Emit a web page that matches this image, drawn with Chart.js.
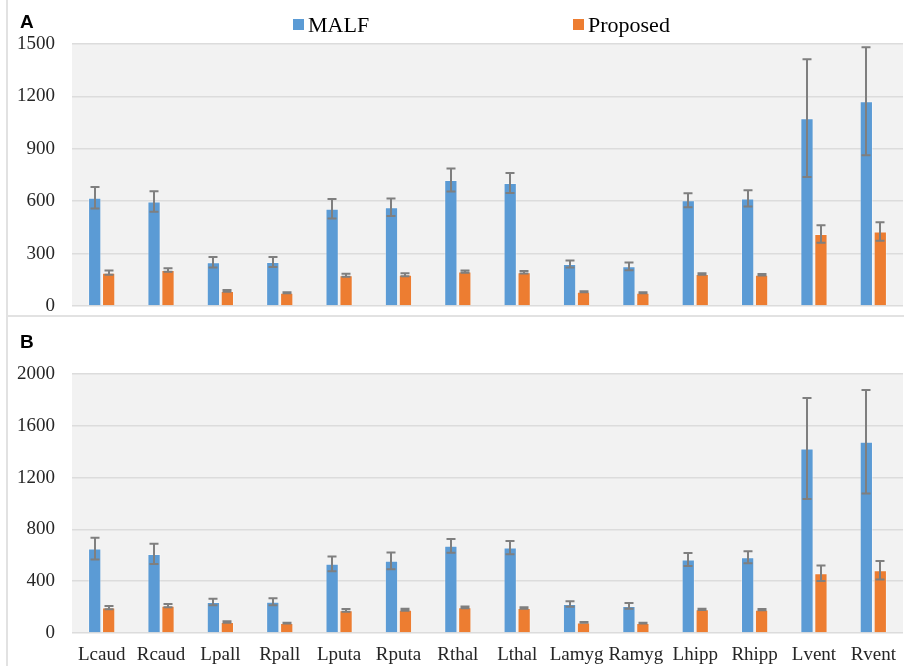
<!DOCTYPE html>
<html>
<head>
<meta charset="utf-8">
<script src="https://cdn.jsdelivr.net/npm/chart.js@4.4.1/dist/chart.umd.min.js"></script>
<style>
  html, body { margin: 0; padding: 0; background: #ffffff; }
  #wrap { position: relative; width: 904px; height: 666px; overflow: hidden; background: #fff; }
  #boxA { position: absolute; left: 0; top: 0; width: 904px; height: 316px; }
  #boxB { position: absolute; left: 0; top: 316px; width: 904px; height: 350px; }
  .panel { position: absolute; font-family: "Liberation Sans", Arial, sans-serif; font-weight: bold; font-size: 19px; line-height: 19px; color: #000; }
  .vline { position: absolute; left: 6px; top: 0; width: 2px; height: 666px; background: #e2e2e2; }
  .hline { position: absolute; left: 7px; top: 315px; width: 897px; height: 2px; background: #e2e2e2; }
</style>
</head>
<body>
<div id="wrap">
  <div id="boxA"><canvas id="chartA" width="904" height="316"></canvas></div>
  <div id="boxB"><canvas id="chartB" width="904" height="350"></canvas></div>
  <div class="vline"></div>
  <div class="hline"></div>
  <div class="panel" style="left:20px; top:12px;">A</div>
  <div class="panel" style="left:20px; top:332px;">B</div>
</div>
<script>
// ---- data ----
const categories = ["Lcaud","Rcaud","Lpall","Rpall","Lputa","Rputa","Rthal","Lthal","Lamyg","Ramyg","Lhipp","Rhipp","Lvent","Rvent"];
const seriesNames = ["MALF", "Proposed"];

const malfA      = [620, 598, 250, 252, 557, 565, 721, 704, 240, 227, 605, 616, 1075, 1172];
const malfErrA   = [ 62,  59,  30,  29,  56,  50,  66,  57,  20,  22,  40,  46,  337,  309];
const propA      = [191, 206,  86,  76, 176, 179, 197, 193,  82,  76, 183, 179,  412,  426];
const propErrA   = [ 12,  10,   5,   3,   8,   8,   6,   7,   3,   3,   4,   4,   50,   53];

const malfB      = [652, 611, 240, 242, 534, 557, 673, 660, 224, 209, 567, 585, 1425, 1477];
const malfErrB   = [ 84,  79,  25,  27,  57,  64,  53,  51,  21,  22,  50,  47,  390,  400];
const propB      = [196, 211,  85,  77, 175, 180, 198, 193,  82,  77, 183, 180,  461,  485];
const propErrB   = [ 13,  13,   5,   3,  10,   8,   6,   6,   3,   3,   5,   5,   60,   71];

const ticksA = [0, 300, 600, 900, 1200, 1500];
const ticksB = [0, 400, 800, 1200, 1600, 2000];

// ---- styles ----
const BLUE = "#5b9bd5";
const ORANGE = "#ed7d31";
const ERR = "#7f7f7f";
const GRID = "#dcdcdc";
const PLOTBG = "#f2f2f2";
const SERIF = "'Liberation Serif', 'Times New Roman', serif";

const plotBg = {
  id: "plotBg",
  beforeDraw(chart) {
    const a = chart.chartArea, ctx = chart.ctx;
    ctx.save();
    ctx.fillStyle = PLOTBG;
    ctx.fillRect(a.left, a.top, a.right - a.left, a.bottom - a.top);
    ctx.restore();
  }
};

const errorBars = {
  id: "errorBars",
  afterDatasetsDraw(chart) {
    const ctx = chart.ctx;
    const y = chart.scales.y;
    ctx.save();
    ctx.strokeStyle = ERR;
    ctx.lineWidth = 2;
    chart.data.datasets.forEach((ds, i) => {
      const meta = chart.getDatasetMeta(i);
      meta.data.forEach((el, j) => {
        const v = ds.data[j], e = ds.errors[j];
        const x = Math.round(el.x);
        const t = y.getPixelForValue(v + e);
        const b = y.getPixelForValue(v - e);
        const cap = 4.5;
        ctx.beginPath();
        ctx.moveTo(x, t); ctx.lineTo(x, b);
        ctx.moveTo(x - cap, t); ctx.lineTo(x + cap, t);
        ctx.moveTo(x - cap, b); ctx.lineTo(x + cap, b);
        ctx.stroke();
      });
    });
    ctx.restore();
  }
};

const topLegend = {
  id: "topLegend",
  afterDraw(chart) {
    const ctx = chart.ctx;
    const items = [
      { text: seriesNames[0], color: BLUE, x: 293 },
      { text: seriesNames[1], color: ORANGE, x: 573 }
    ];
    ctx.save();
    ctx.font = "22px " + SERIF;
    ctx.textBaseline = "middle";
    ctx.textAlign = "left";
    items.forEach(it => {
      ctx.fillStyle = it.color;
      ctx.fillRect(it.x, 19, 11, 11);
      ctx.fillStyle = "#000";
      ctx.fillText(it.text, it.x + 15, 26);
    });
    ctx.restore();
  }
};

function makeChart(id, malf, malfErr, prop, propErr, tickVals, showX, padTop, xHeight, plugins) {
  const max = tickVals[tickVals.length - 1];
  const step = tickVals[1] - tickVals[0];
  return new Chart(document.getElementById(id), {
    type: "bar",
    data: {
      labels: categories,
      datasets: [
        { label: seriesNames[0], data: malf, errors: malfErr, backgroundColor: BLUE,
          borderColor: "rgba(255,255,255,0.35)", borderWidth: 1,
          categoryPercentage: 0.47, barPercentage: 0.95 },
        { label: seriesNames[1], data: prop, errors: propErr, backgroundColor: ORANGE,
          borderColor: "rgba(255,255,255,0.35)", borderWidth: 1,
          categoryPercentage: 0.47, barPercentage: 0.95 }
      ]
    },
    options: {
      responsive: false,
      animation: false,
      devicePixelRatio: 1,
      layout: { padding: { left: 0, right: 1, top: padTop, bottom: 0 } },
      plugins: { legend: { display: false }, tooltip: { enabled: false } },
      scales: {
        x: {
          display: true,
          grid: { display: false, drawTicks: false },
          border: { display: false },
          ticks: { display: showX, color: "#262626", font: { family: SERIF, size: 19 }, padding: 11, maxRotation: 0, autoSkip: false },
          afterFit(s) { s.height = xHeight; s.paddingLeft = 0; s.paddingRight = 0; }
        },
        y: {
          min: 0, max: max,
          grid: { color: GRID, lineWidth: 1.5, drawTicks: false },
          border: { display: false },
          ticks: { stepSize: step, color: "#262626", font: { family: SERIF, size: 19 }, padding: 17,
                   callback: (v) => String(v) },
          afterFit(s) { s.width = 72; s.paddingTop = 0; s.paddingBottom = 0; }
        }
      }
    },
    plugins: plugins
  });
}

makeChart("chartA", malfA, malfErrA, propA, propErrA, ticksA, false, 44, 10, [plotBg, errorBars, topLegend]);
makeChart("chartB", malfB, malfErrB, propB, propErrB, ticksB, true, 58, 33, [plotBg, errorBars]);
</script>
</body>
</html>
